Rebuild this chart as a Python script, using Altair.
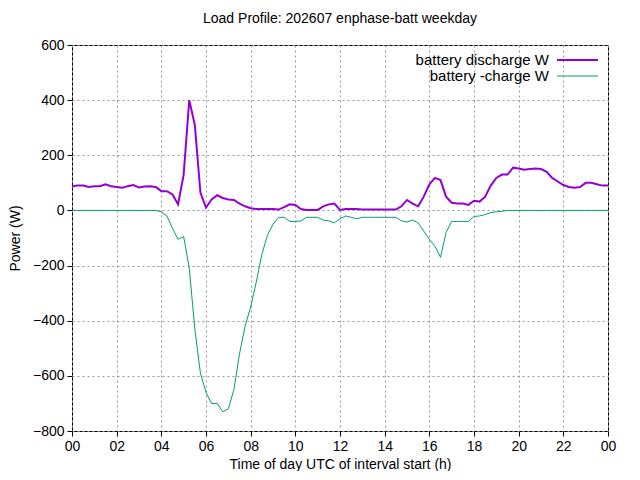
import altair as alt
import pandas as pd

hours = [i * 0.25 for i in range(97)]
discharge = [88,90,90,85,88,88,95,88,85,82,88,92,83,87,88,85,
             70,70,58,22,130,400,310,65,10,40,55,45,40,38,25,15,
             8,5,5,5,5,3,12,22,20,5,2,2,2,15,22,25,
             2,5,5,5,3,3,3,3,3,3,3,15,38,25,15,50,
             95,118,110,50,28,25,25,20,35,32,50,90,118,130,130,155,
             152,148,150,152,150,140,118,105,92,85,82,85,100,100,95,90,90]
charge = [0]*16 + [-5,-20,-65,-105,-95,-210,-430,-590,-660,-700,-700,-730,-720,-650,-520,-420,
          -350,-260,-160,-90,-50,-25,-25,-40,-40,-38,-25,-25,-25,-35,-38,-45,
          -30,-20,-25,-30,-25,-25,-25,-25,-25,-25,-25,-38,-42,-35,-45,-75,
          -105,-130,-170,-80,-40,-40,-40,-40,-22,-20,-15,-8,-5,-3,0,0] + [0]*17

df = pd.DataFrame({"h": hours, "d": discharge, "c": charge})
font = "Liberation Sans"
x = alt.X("h:Q", scale=alt.Scale(domain=[0, 24], nice=False),
          axis=alt.Axis(values=list(range(0, 25, 2)), title="Time of day UTC of interval start (h)",
                        labelFlush=False,
                        labelExpr="(datum.value % 24) < 10 ? '0' + (datum.value % 24) : '' + (datum.value % 24)"))
y_axis = alt.Axis(values=list(range(-800, 601, 200)), title="Power (W)")
ysc = alt.Scale(domain=[-800, 600], nice=False)

base = alt.Chart(df)
l1 = base.mark_line(color="#9400D3", strokeWidth=2).encode(x=x, y=alt.Y("d:Q", scale=ysc, axis=y_axis))
l2 = base.mark_line(color="#009E73", strokeWidth=1).encode(x=x, y=alt.Y("c:Q", scale=ysc))

leg = pd.DataFrame({"t": ["battery discharge W", "battery -charge W"], "yy": [15, 31]})
lt = alt.Chart(leg).mark_text(align="right", baseline="middle", font=font, fontSize=15).encode(
    x=alt.value(477), y=alt.Y("yy:Q", scale=None), text="t:N")
lr1 = alt.Chart(leg.iloc[[0]]).mark_rule(color="#9400D3", strokeWidth=2).encode(
    x=alt.value(485), x2=alt.value(526), y=alt.Y("yy:Q", scale=None))
lr2 = alt.Chart(leg.iloc[[1]]).mark_rule(color="#009E73", strokeWidth=1).encode(
    x=alt.value(485), x2=alt.value(526), y=alt.Y("yy:Q", scale=None))

chart = alt.layer(l1, l2, lt, lr1, lr2).properties(
    width=536, height=386,
    title=alt.TitleParams("Load Profile: 202607 enphase-batt weekday", font=font, fontSize=14,
                          fontWeight="normal", offset=12),
    padding={"left": 0, "top": 4, "right": 15, "bottom": 0},
).configure_view(stroke="black", strokeWidth=1).configure_axis(
    grid=True, gridColor="#999999", gridDash=[2, 3], domain=False,
    labelFont=font, labelFontSize=14, titleFont=font, titleFontSize=14, titleFontWeight="normal",
    labelColor="black", titleColor="black", tickColor="black", tickSize=5, labelPadding=3,
).configure_axisY(titlePadding=10)

chart.save("out.html", embed_options={"renderer": "svg", "actions": False})
